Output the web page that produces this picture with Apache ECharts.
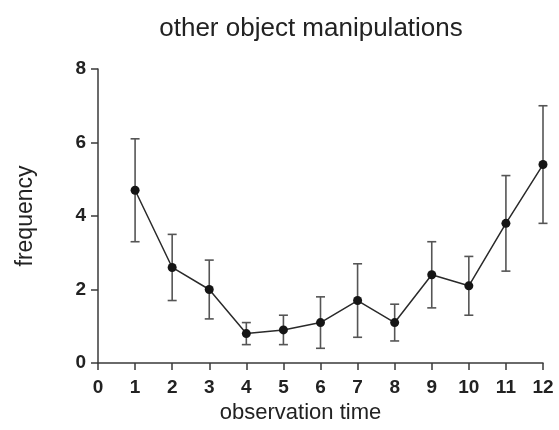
<!DOCTYPE html>
<html>
<head>
<meta charset="utf-8">
<script src="https://cdn.jsdelivr.net/npm/echarts@6/dist/echarts.min.js"></script>
<style>
  html, body { margin: 0; padding: 0; background: #fff; }
  #chart { width: 559px; height: 430px; }
</style>
</head>
<body>
<div id="chart"></div>
<script>
// Observation times (x) and mean frequency per time point
const times = [1, 2, 3, 4, 5, 6, 7, 8, 9, 10, 11, 12];
const means = [4.7, 2.6, 2.0, 0.8, 0.9, 1.1, 1.7, 1.1, 2.4, 2.1, 3.8, 5.4];
// Error bar extents (lower / upper bound of each whisker)
const lower = [3.3, 1.7, 1.2, 0.5, 0.5, 0.4, 0.7, 0.6, 1.5, 1.3, 2.5, 3.8];
const upper = [6.1, 3.5, 2.8, 1.1, 1.3, 1.8, 2.7, 1.6, 3.3, 2.9, 5.1, 7.0];
// Axis ticks
const xTicks = [0, 1, 2, 3, 4, 5, 6, 7, 8, 9, 10, 11, 12];
const yTicks = [0, 2, 4, 6, 8];

const chart = echarts.init(document.getElementById('chart'), null, { renderer: 'canvas' });

const lineData = times.map((t, i) => [t, means[i]]);
const errData = times.map((t, i) => [t, lower[i], upper[i]]);

const axisColor = '#3a3a3a';
const labelFont = {
  color: '#222',
  fontFamily: '"Liberation Sans Narrow", "Liberation Sans", Arial, sans-serif',
  fontWeight: 'bold',
  fontSize: 19
};

chart.setOption({
  animation: false,
  backgroundColor: '#fff',
  title: {
    text: 'other object manipulations',
    left: 306,
    top: 11,
    textAlign: 'center',
    textStyle: {
      color: '#222',
      fontFamily: 'Liberation Sans, Arial, sans-serif',
      fontWeight: 'normal',
      fontSize: 26
    }
  },
  grid: { left: 98, right: 16, top: 69, bottom: 67 },
  xAxis: {
    type: 'value',
    min: xTicks[0],
    max: xTicks[xTicks.length - 1],
    interval: 1,
    name: 'observation time',
    nameLocation: 'middle',
    nameGap: 38,
    nameTextStyle: {
      color: '#222',
      fontFamily: 'Liberation Sans, Arial, sans-serif',
      fontSize: 22,
      padding: [0, 40, 0, 0]
    },
    axisLine: { show: true, onZero: false, lineStyle: { color: axisColor, width: 1.5 } },
    axisTick: { show: true, inside: false, length: 7, lineStyle: { color: axisColor, width: 1.5 } },
    axisLabel: Object.assign({ margin: 15 }, labelFont),
    splitLine: { show: false }
  },
  yAxis: {
    type: 'value',
    min: yTicks[0],
    max: yTicks[yTicks.length - 1],
    interval: 2,
    name: 'frequency',
    nameLocation: 'middle',
    nameGap: 61,
    nameTextStyle: {
      color: '#222',
      fontFamily: 'Liberation Sans, Arial, sans-serif',
      fontSize: 23
    },
    axisLine: { show: true, onZero: false, lineStyle: { color: axisColor, width: 1.5 } },
    axisTick: { show: true, inside: false, length: 7, lineStyle: { color: axisColor, width: 1.5 } },
    axisLabel: Object.assign({ margin: 12 }, labelFont),
    splitLine: { show: false }
  },
  series: [
    {
      type: 'custom',
      name: 'error',
      z: 2,
      data: errData,
      encode: { x: 0, y: [1, 2] },
      renderItem: function (params, api) {
        const x = api.value(0);
        const lo = api.coord([x, api.value(1)]);
        const hi = api.coord([x, api.value(2)]);
        const half = 4.5;
        const style = { stroke: '#555', lineWidth: 1.6, fill: null };
        return {
          type: 'group',
          children: [
            { type: 'line', shape: { x1: lo[0], y1: lo[1], x2: hi[0], y2: hi[1] }, style: style },
            { type: 'line', shape: { x1: hi[0] - half, y1: hi[1], x2: hi[0] + half, y2: hi[1] }, style: style },
            { type: 'line', shape: { x1: lo[0] - half, y1: lo[1], x2: lo[0] + half, y2: lo[1] }, style: style }
          ]
        };
      }
    },
    {
      type: 'line',
      name: 'mean',
      z: 3,
      data: lineData,
      symbol: 'circle',
      symbolSize: 9,
      showAllSymbol: true,
      lineStyle: { color: '#2a2a2a', width: 1.5 },
      itemStyle: { color: '#151515', borderWidth: 0 }
    }
  ]
});
</script>
</body>
</html>
